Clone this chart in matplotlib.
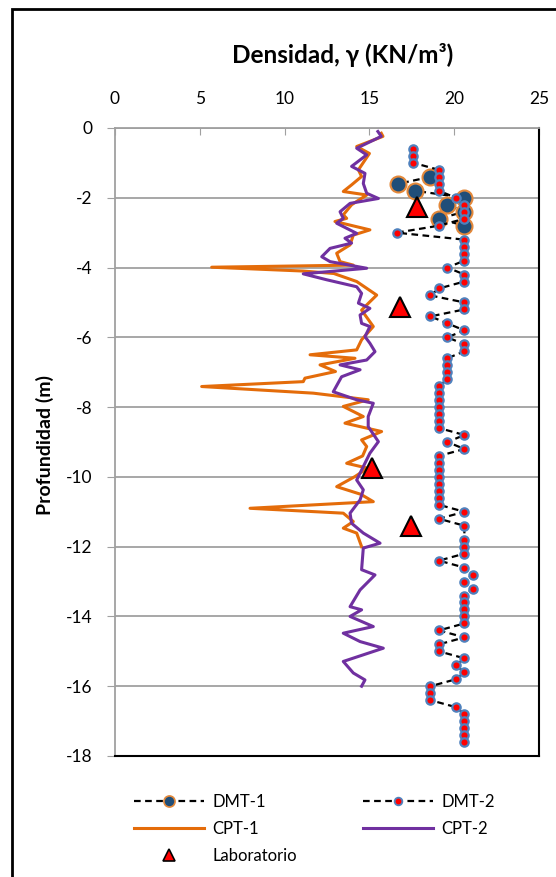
import matplotlib
matplotlib.use("Agg")
import matplotlib.pyplot as plt
from matplotlib.lines import Line2D
from matplotlib.patches import Rectangle

plt.rcParams['font.family'] = ['Lato', 'DejaVu Sans']
plt.rcParams['axes.unicode_minus'] = False

# ---------------- data ----------------
dmt1_depth = [-1.4, -1.6, -1.8, -2.0, -2.2, -2.4, -2.6, -2.8]
dmt1_gamma = [18.6, 16.7, 17.7, 20.6, 19.6, 20.6, 19.1, 20.6]

dmt2_depth = [-0.6, -0.8, -1.0, -1.2, -1.4, -1.6, -1.8, -2.0, -2.2, -2.4,
              -2.6, -2.8, -3.0, -3.2, -3.4, -3.6, -3.8, -4.0, -4.2, -4.4,
              -4.6, -4.8, -5.0, -5.2, -5.4, -5.6, -5.8, -6.0, -6.2, -6.4,
              -6.6, -6.8, -7.0, -7.2, -7.4, -7.6, -7.8, -8.0, -8.2, -8.4,
              -8.6, -8.8, -9.0, -9.2, -9.4, -9.6, -9.8, -10.0, -10.2, -10.4,
              -10.6, -10.8, -11.0, -11.2, -11.4, -11.8, -12.0, -12.2, -12.4,
              -12.6, -12.8, -13.0, -13.2, -13.4, -13.6, -13.8, -14.0, -14.2, -14.4,
              -14.6, -14.8, -15.0, -15.2, -15.4, -15.6, -15.8, -16.0, -16.2, -16.4,
              -16.6, -16.8, -17.0, -17.2, -17.4, -17.6]
dmt2_gamma = [17.6, 17.6, 17.6, 19.1, 19.1, 19.1, 19.1, 20.1, 20.6, 20.6,
              20.6, 19.1, 16.6, 20.6, 20.6, 20.6, 20.6, 19.6, 20.6, 20.6,
              19.1, 18.6, 20.6, 20.6, 18.6, 19.6, 20.6, 19.6, 20.6, 20.6,
              19.6, 19.6, 19.6, 19.6, 19.1, 19.1, 19.1, 19.1, 19.1, 19.1,
              19.1, 20.6, 19.6, 20.6, 19.1, 19.1, 19.1, 19.1, 19.1, 19.1,
              19.1, 19.1, 20.6, 19.1, 20.6, 20.6, 20.6, 20.6, 19.1,
              20.6, 21.1, 20.6, 21.1, 20.6, 20.6, 20.6, 20.6, 20.6, 19.1,
              20.6, 19.1, 19.1, 20.6, 20.1, 20.6, 20.1, 18.6, 18.6, 18.6,
              20.1, 20.6, 20.6, 20.6, 20.6, 20.6]

cpt1_depth = [-0.15, -0.24, -0.53, -0.73, -1.2, -1.39, -1.63, -1.82, -1.92, -2.2,
              -2.49, -2.59, -2.68, -2.92, -3.07, -3.35, -3.59, -3.83, -3.93, -3.99,
              -4.1, -4.17, -4.4, -4.79, -4.98, -5.22, -5.69, -6.07, -6.36, -6.5,
              -6.6, -6.79, -6.98, -7.17, -7.27, -7.41, -7.6, -7.79, -7.98, -8.27,
              -8.46, -8.7, -8.94, -9.13, -9.4, -9.61, -9.75, -9.99, -10.28, -10.5,
              -10.71, -10.9, -11.04, -11.28, -11.47, -11.61, -12.0]
cpt1_gamma = [15.7, 15.8, 14.25, 15.0, 14.35, 14.54, 13.95, 13.46, 14.84, 13.95,
              13.46, 13.66, 12.97, 15.03, 14.05, 13.86, 13.07, 13.27, 14.05, 5.7,
              11.1, 12.9, 14.25, 15.43, 15.03, 14.54, 15.23, 14.54, 14.25, 11.5,
              14.15, 12.09, 13.0, 11.2, 11.1, 5.11, 11.69, 14.93, 13.46, 14.64,
              13.56, 15.72, 14.54, 14.84, 14.6, 13.66, 14.9, 14.15, 13.07, 14.5,
              15.23, 7.96, 13.46, 14.05, 13.46, 14.25, 14.54]

cpt2_depth = [-0.1, -0.24, -0.58, -0.77, -1.1, -1.3, -1.59, -1.87, -2.02, -2.16,
              -2.4, -2.59, -2.73, -3.02, -3.16, -3.3, -3.45, -3.69, -3.83, -4.02,
              -4.18, -4.35, -4.55, -4.74, -5.02, -5.17, -5.36, -5.6, -5.69, -5.98,
              -6.17, -6.41, -6.65, -6.79, -6.93, -7.13, -7.56, -7.79, -7.89, -8.27,
              -8.56, -8.99, -9.32, -10.09, -10.37, -10.66, -11.04, -11.33, -11.61, -11.9,
              -12.04, -12.66, -12.81, -13.24, -13.72, -13.81, -14.0, -14.29, -14.48, -14.72,
              -14.91, -15.29, -15.62, -15.82, -16.0]
cpt2_gamma = [15.5, 15.7, 14.25, 14.84, 13.95, 14.74, 14.64, 14.84, 15.53, 13.86,
              13.27, 13.46, 13.07, 14.25, 13.56, 13.95, 12.68, 12.19, 12.68, 14.84,
              11.1, 12.48, 14.25, 14.54, 14.35, 15.03, 14.45, 14.54, 15.03, 14.74,
              15.03, 15.33, 14.84, 13.27, 14.45, 13.36, 12.87, 14.25, 15.23, 14.93,
              14.93, 15.53, 15.03, 14.25, 14.64, 14.45, 13.86, 13.95, 14.64, 15.63,
              14.64, 14.54, 15.33, 14.45, 13.86, 14.54, 13.86, 15.23, 13.46, 14.45,
              15.82, 13.46, 14.05, 14.74, 14.54]

lab_depth = [-2.25, -5.13, -9.75, -11.42]
lab_gamma = [17.8, 16.8, 15.13, 17.43]

x_ticks = [0, 5, 10, 15, 20, 25]
y_ticks = [0, -2, -4, -6, -8, -10, -12, -14, -16, -18]

legend_labels = ['DMT-1', 'CPT-1', 'Laboratorio', 'DMT-2', 'CPT-2']

# ---------------- styles ----------------
C_ORANGE = '#E46C0A'
C_PURPLE = '#7030A0'
C_DMT1_FACE = '#1F4E79'
C_DMT1_EDGE = '#E3883A'
C_DMT2_FACE = '#FF0000'
C_DMT2_EDGE = '#4F81BD'

W, H = 556, 877
DPI = 100
fig = plt.figure(figsize=(W / DPI, H / DPI), dpi=DPI)
ax = fig.add_axes([115 / W, 1 - 756 / H, (539 - 115) / W, (756 - 128) / H])

ax.plot(cpt1_gamma, cpt1_depth, color=C_ORANGE, lw=2.2, zorder=2, solid_joinstyle='round')
ax.plot(cpt2_gamma, cpt2_depth, color=C_PURPLE, lw=2.2, zorder=3, solid_joinstyle='round')
ax.plot(dmt1_gamma, dmt1_depth, color='black', lw=1.6, ls=(0, (3, 2)), marker='o',
        ms=11.5, mfc=C_DMT1_FACE, mec=C_DMT1_EDGE, mew=1.5, zorder=4)
ax.plot(dmt2_gamma, dmt2_depth, color='black', lw=1.6, ls=(0, (3, 2)), marker='o',
        ms=6, mfc=C_DMT2_FACE, mec=C_DMT2_EDGE, mew=1.6, zorder=5)
ax.plot(lab_gamma, lab_depth, ls='none', marker='^', ms=15, mfc='#FF0000',
        mec='black', mew=1.5, zorder=6)

ax.set_xlim(0, 25)
ax.set_ylim(-18, 0)
ax.set_xticks(x_ticks)
ax.set_yticks(y_ticks)
ax.xaxis.tick_top()
ax.tick_params(axis='x', direction='in', length=5, color='#A0A0A0', labelsize=12.5, pad=15)
ax.tick_params(axis='y', direction='out', length=6, color='#A0A0A0', labelsize=12.5, pad=10)
ax.grid(axis='y', color='#A0A0A0', lw=1.3)
ax.set_axisbelow(True)
for s in ['top', 'left']:
    ax.spines[s].set_color('#A0A0A0')
    ax.spines[s].set_linewidth(1.3)
for s in ['right', 'bottom']:
    ax.spines[s].set_color('black')
    ax.spines[s].set_linewidth(1.5)

fig.text(343 / W, 1 - 55 / H, 'Densidad, γ (KN/m³)', fontsize=17.5, fontweight='bold',
         ha='center', va='center')
fig.text(45 / W, 1 - 445 / H, 'Profundidad (m)', fontsize=14, fontweight='bold',
         ha='center', va='center', rotation=90)

# legend (proxy handles)
LFS = 12
h_dmt1 = Line2D([], [], color='black', lw=1.6, ls=(0, (3, 2)), marker='o', ms=8,
                mfc=C_DMT1_FACE, mec=C_DMT1_EDGE, mew=1.2)
h_dmt2 = Line2D([], [], color='black', lw=1.6, ls=(0, (3, 2)), marker='o', ms=5.5,
                mfc=C_DMT2_FACE, mec=C_DMT2_EDGE, mew=1.3)
h_cpt1 = Line2D([], [], color=C_ORANGE, lw=2.2)
h_cpt2 = Line2D([], [], color=C_PURPLE, lw=2.2)
h_lab = Line2D([], [], ls='none', marker='^', ms=8, mfc='#FF0000', mec='black', mew=1.2)

# measure widest label of column 1 to place column 2 handle at x=355 px
renderer = fig.canvas.get_renderer()
t = fig.text(0, 0, 'Laboratorio', fontsize=LFS)
wpx = t.get_window_extent(renderer).width
t.remove()
em_px = LFS * DPI / 72
hl_px, pad_px = 70, 8
colsp = (355 - 126 - hl_px - pad_px - wpx) / em_px

fig.legend([h_dmt1, h_cpt1, h_lab, h_dmt2, h_cpt2], legend_labels,
           ncol=2, loc='upper left', bbox_to_anchor=((126 - 0.4 * em_px) / W, 1 - 779 / H),
           frameon=False, fontsize=LFS, handlelength=hl_px / em_px, numpoints=1,
           columnspacing=colsp, labelspacing=0.66, handletextpad=pad_px / em_px)

# outer frame
fig.add_artist(Rectangle((12 / W, -0.1), 2, 1.1 - 9 / H, transform=fig.transFigure,
                         fill=False, ec='black', lw=2))

fig.savefig('out.png', dpi=DPI)
